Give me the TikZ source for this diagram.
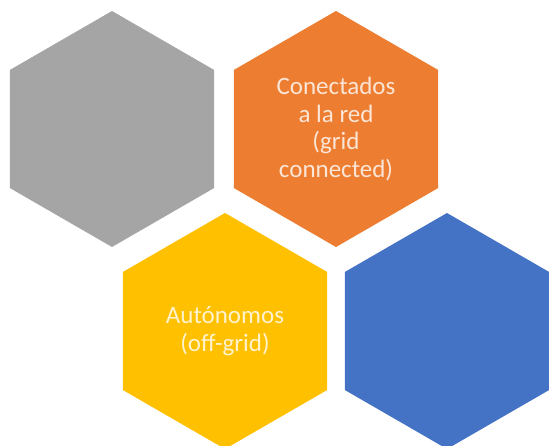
\documentclass[tikz,border=0pt]{standalone}
\usepackage{fontspec}
\setmainfont{Carlito}
\usetikzlibrary{shapes.geometric}
\definecolor{hexgray}{HTML}{A5A5A5}
\definecolor{hexorange}{HTML}{ED7D31}
\definecolor{hexyellow}{HTML}{FFC000}
\definecolor{hexblue}{HTML}{4472C4}

\begin{document}
\begin{tikzpicture}[x=1pt,y=-1pt,
  hexa/.style={regular polygon,regular polygon sides=6,regular polygon rotate=30,minimum size=236pt,
    inner sep=0pt,outer sep=0pt,text=white,text opacity=0.8,align=center,font=\fontsize{25}{27.5}\selectfont}]
\useasboundingbox (0,0) rectangle (549,446);
\clip (0,0) rectangle (549,446);
\foreach \n/\x/\y/\c/\t in {gris/112/129/hexgray/{},red/336/129/hexorange/{Conectados\\a la red\\(grid\\connected)},aut/225/331/hexyellow/{Autónomos\\(off-grid)},azul/447/331/hexblue/{}}{
\node[hexa,fill=\c] (\n) at (\x,\y) {\t};}
\end{tikzpicture}
\end{document}
